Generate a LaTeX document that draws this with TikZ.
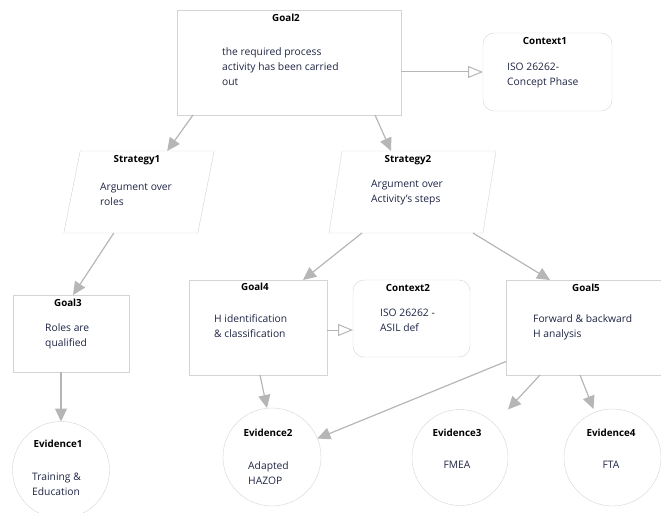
\documentclass[tikz,border=0pt]{standalone}
\usepackage{fontspec}
\setmainfont{Open Sans}
\usetikzlibrary{arrows.meta}

\definecolor{boxline}{HTML}{D4D4D4}
\definecolor{linkline}{HTML}{B6B6B6}
\definecolor{bodytext}{HTML}{1E2444}

\begin{document}
\begin{tikzpicture}
      [x=1pt,y=-1pt,
       goal/.style={rectangle,draw=boxline,inner sep=0pt,outer sep=0pt},
       context/.style={goal,rounded corners=11pt},
       strategy/.style={goal,transform shape},
       evidence/.style={circle,draw=boxline,inner sep=0pt,outer sep=0pt},
       head/.style={font=\fontsize{9.8}{12}\selectfont\bfseries,anchor=base,inner sep=0pt},
       body/.style={font=\fontsize{10.3}{15}\selectfont,text=bodytext,align=left,anchor=base west,inner sep=0pt},
       link/.style={draw=linkline,line width=1.2pt,-{Triangle[length=13pt,width=12pt]}},
       ctxlink/.style={draw=linkline,line width=1pt,-{Triangle[open,length=15pt,width=12pt]}}]
      \useasboundingbox (0,0) rectangle (661,513);
      % boxes
      \node[goal,minimum width=224pt,minimum height=105pt] (goal2) at (289,62.5) {};
      \node[context,minimum width=129pt,minimum height=78pt] (context1) at (547.5,72) {};
      \node[strategy,xslant=0.2,minimum width=134pt,minimum height=82pt] (strategy1) at (139,192) {};
      \node[strategy,xslant=0.16,minimum width=154pt,minimum height=82pt] (strategy2) at (412.5,192) {};
      \node[goal,minimum width=116pt,minimum height=77pt] (goal3) at (71,333.5) {};
      \node[goal,minimum width=138pt,minimum height=95pt] (goal4) at (258,327.5) {};
      \node[context,minimum width=117pt,minimum height=77pt] (context2) at (411.5,318.5) {};
      \node[goal,minimum width=162pt,minimum height=95pt] (goal5) at (587,327.5) {};
      \node[evidence,minimum size=97pt] (evidence1) at (61,470) {};
      \node[evidence,minimum size=98pt] (evidence2) at (272,457) {};
      \node[evidence,minimum size=96pt] (evidence3) at (460,457.5) {};
      \node[evidence,minimum size=97pt] (evidence4) at (612.5,457.5) {};
      % titles and texts (base of a text is its last line)
      \node[head] (goal2head) at (286,22) {Goal2};
      \node[body] (goal2text) at (222,85.5) {the required process\\activity has been carried\\out};
      \node[head] (context1head) at (545,45) {Context1};
      \node[body] (context1text) at (507,85.5) {ISO 26262-\\Concept Phase};
      \node[head] (strategy1head) at (137,163) {Strategy1};
      \node[body] (strategy1text) at (100,205.5) {Argument over\\roles};
      \node[head] (strategy2head) at (408,163) {Strategy2};
      \node[body] (strategy2text) at (371,202.5) {Argument over\\Activity's steps};
      \node[head] (goal3head) at (68,306) {Goal3};
      \node[body] (goal3text) at (45,346.5) {Roles are\\qualified};
      \node[head] (goal4head) at (255,290) {Goal4};
      \node[body] (goal4text) at (214,337.5) {H identification\\\& classification};
      \node[head] (context2head) at (408,291) {Context2};
      \node[body] (context2text) at (380,331.5) {ISO 26262 -\\ASIL def};
      \node[head] (goal5head) at (586,291) {Goal5};
      \node[body] (goal5text) at (533,337.5) {Forward \& backward\\H analysis};
      \node[head] (evidence1head) at (58,447) {Evidence1};
      \node[body] (evidence1text) at (32,495.5) {Training \&\\Education};
      \node[head] (evidence2head) at (268,436) {Evidence2};
      \node[body] (evidence2text) at (248,484.5) {Adapted\\HAZOP};
      \node[head] (evidence3head) at (457,436) {Evidence3};
      \node[body,anchor=base] (evidence3text) at (457,468.5) {FMEA};
      \node[head] (evidence4head) at (611,436) {Evidence4};
      \node[body,anchor=base] (evidence4text) at (611,468.5) {FTA};
      % connectors
      \coordinate (context2in) at ([yshift=-11.5pt]context2.west);
      \draw[ctxlink] (context1.west -| goal2.east) to (context1.west);
      \draw[ctxlink] (context2in -| goal4.east) to (context2in);
      \draw[link] ([xshift=-96pt]goal2.south) to ([xshift=20pt]strategy1.north);
      \draw[link] ([xshift=86pt]goal2.south) to ([xshift=-28pt]strategy2.north);
      \draw[link] ([xshift=-17pt]strategy1.south) to ([xshift=2pt]goal3.north);
      \draw[link] ([xshift=-44pt]strategy2.south) to ([xshift=45pt]goal4.north);
      \draw[link] ([xshift=67pt]strategy2.south) to ([xshift=-37pt]goal5.north);
      \draw[link] ([xshift=-10pt]goal3.south) to (evidence1.north);
      \draw[link] ([xshift=2pt]goal4.south) to ([xshift=-5pt]evidence2.north);
      \draw[link] ([yshift=-34pt]goal5.west) to (evidence2);
      \draw[link] ([xshift=-47pt]goal5.south) to ([xshift=48pt]evidence3.north);
      \draw[link] ([xshift=-7pt]goal5.south) to ([xshift=-19pt]evidence4.north);
    \end{tikzpicture}
\end{document}
